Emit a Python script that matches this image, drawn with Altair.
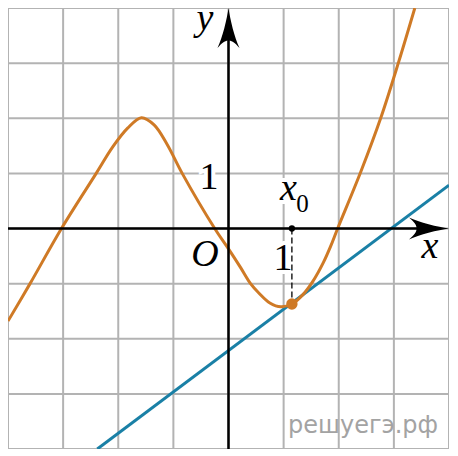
import altair as alt
import pandas as pd

# ---- data ----
curve_x = [-4.0, -3.6, -3.03, -2.4, -2.1, -1.83, -1.58, -1.35, -1.11, -0.84, -0.25, 0.0,
           0.22, 0.4, 0.55, 0.75, 0.95, 1.15, 1.35, 1.53, 1.72, 1.85, 1.98, 2.4, 2.76,
           3.08, 3.38]
curve_y = [-1.68, -1.0, 0.0, 1.0, 1.48, 1.82, 2.01, 1.88, 1.52, 1.0, 0.0, -0.37,
           -0.71, -1.0, -1.17, -1.35, -1.42, -1.37, -1.20, -0.96, -0.62, -0.33, 0.0, 1.03,
           2.0, 3.0, 4.0]
tangent_x = [-2.38, 4.0]
tangent_y = [-4.0, 0.785]
x0 = 1.15
y0 = -1.37
grid_values = [-4, -3, -2, -1, 0, 1, 2, 3, 4]

ORANGE = "#cf7a26"
BLUE = "#1a80a6"
GRID = "#b3b3b3"
SERIF = "Liberation Serif"

xs = alt.Scale(domain=[-4, 4])
ys = alt.Scale(domain=[-4, 4])


def X(f="x"):
    return alt.X(f"{f}:Q", scale=xs, axis=None)


def Y(f="y"):
    return alt.Y(f"{f}:Q", scale=ys, axis=None)


grid_df = pd.DataFrame({"v": grid_values})
vgrid = alt.Chart(grid_df).mark_rule(color=GRID, strokeWidth=2).encode(
    x=alt.X("v:Q", scale=xs, axis=None))
hgrid = alt.Chart(grid_df).mark_rule(color=GRID, strokeWidth=2).encode(
    y=alt.Y("v:Q", scale=ys, axis=None))

# labels
labels = pd.DataFrame({
    "t": ["y", "x", "O", "x"],
    "x": [-0.426, 3.655, -0.426, 1.088],
    "y": [3.60, -0.535, -0.680, 0.517],
})
ones = pd.DataFrame({
    "t": ["1", "1"],
    "x": [-0.354, 0.989],
    "y": [0.717, -0.753],
})
sub = pd.DataFrame({"t": ["0"], "x": [1.342], "y": [0.299]})
x0lab = labels.iloc[[3]]

halo1 = alt.Chart(ones).mark_text(
    font=SERIF, fontSize=38, baseline="alphabetic", align="center",
    stroke="white", strokeWidth=8, color="white"
).encode(x=X(), y=Y(), text="t:N")
halo2 = alt.Chart(x0lab).mark_text(
    font=SERIF, fontSize=38, fontStyle="italic", baseline="alphabetic", align="center",
    stroke="white", strokeWidth=8, color="white"
).encode(x=X(), y=Y(), text="t:N")
halo3 = alt.Chart(sub).mark_text(
    font=SERIF, fontSize=25, baseline="alphabetic", align="center",
    stroke="white", strokeWidth=6, color="white"
).encode(x=X(), y=Y(), text="t:N")

curve_df = pd.DataFrame({"x": curve_x, "y": curve_y})
curve = alt.Chart(curve_df).mark_line(
    color=ORANGE, strokeWidth=3, interpolate="catmull-rom"
).encode(x=X(), y=Y(), order="x:Q")

tan_df = pd.DataFrame({"x": tangent_x, "y": tangent_y})
tangent = alt.Chart(tan_df).mark_line(color=BLUE, strokeWidth=3).encode(x=X(), y=Y())

axes_df = pd.DataFrame({"x": [-4.0, 0.0], "x2": [3.8, 0.0],
                        "y": [0.0, -4.0], "y2": [0.0, 3.75]})
axes = alt.Chart(axes_df).mark_rule(color="black", strokeWidth=2.5).encode(
    x=X(), x2="x2:Q", y=Y(), y2="y2:Q")

ARROW = ("M0,-1 C0.08,-0.45 0.3,0.5 0.55,1 C0.32,0.72 0.16,0.62 0,0.62 "
         "C-0.16,0.62 -0.32,0.72 -0.55,1 C-0.3,0.5 -0.08,-0.45 0,-1 Z")
yarrow = alt.Chart(pd.DataFrame({"x": [0.0], "y": [4.0]})).mark_point(
    shape=ARROW, filled=True, color="black", opacity=1, size=1600, yOffset=20
).encode(x=X(), y=Y())
xarrow = alt.Chart(pd.DataFrame({"x": [4.0], "y": [0.0]})).mark_point(
    shape=ARROW, filled=True, color="black", opacity=1, size=1600, angle=90, xOffset=-20
).encode(x=X(), y=Y())

dash = alt.Chart(pd.DataFrame({"x": [x0], "y": [0.0], "y2": [y0]})).mark_rule(
    color="black", strokeWidth=1.3, strokeDash=[6, 3]
).encode(x=X(), y=Y(), y2="y2:Q")
xdot = alt.Chart(pd.DataFrame({"x": [x0], "y": [0.0]})).mark_point(
    filled=True, color="black", opacity=1, size=40
).encode(x=X(), y=Y())
tdot = alt.Chart(pd.DataFrame({"x": [x0], "y": [y0]})).mark_point(
    filled=True, color=ORANGE, opacity=1, size=130
).encode(x=X(), y=Y())

lab = alt.Chart(labels).mark_text(
    font=SERIF, fontSize=38, fontStyle="italic", baseline="alphabetic",
    align="center", color="black"
).encode(x=X(), y=Y(), text="t:N")
ones_txt = alt.Chart(ones).mark_text(
    font=SERIF, fontSize=38, baseline="alphabetic", align="center", color="black"
).encode(x=X(), y=Y(), text="t:N")
sub_txt = alt.Chart(sub).mark_text(
    font=SERIF, fontSize=25, baseline="alphabetic", align="center", color="black"
).encode(x=X(), y=Y(), text="t:N")

wm = alt.Chart(pd.DataFrame({"t": ["решуегэ.рф"], "x": [1.079], "y": [-3.710]})).mark_text(
    font="DejaVu Sans", fontSize=24, baseline="alphabetic", align="left", color="#a3a3a3"
).encode(x=X(), y=Y(), text="t:N")

chart = alt.layer(
    vgrid, hgrid, halo1, halo2, halo3, wm, tangent, curve, axes, yarrow, xarrow,
    dash, xdot, tdot, lab, ones_txt, sub_txt
).properties(
    width=441, height=441, padding=0, autosize="none", background="white"
).configure_view(stroke=None)

chart.save("out.html", embed_options={"renderer": "svg", "actions": False})
